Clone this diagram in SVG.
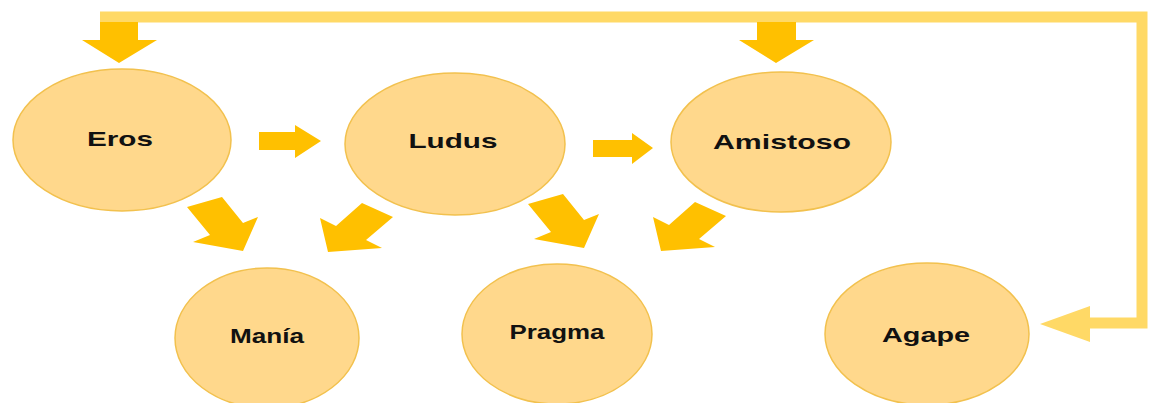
<svg xmlns="http://www.w3.org/2000/svg" width="1150" height="403" viewBox="0 0 1150 403">
<style>
.node{fill:#FFD88C;stroke:#F2C14E;stroke-width:1.5}
.lbl{font-family:"Liberation Sans",Arial,sans-serif;font-weight:bold;font-size:21px;fill:#111;text-anchor:middle}
.arr{fill:#FFC000}
.loop{fill:none;stroke:#FFD966;stroke-width:11;stroke-linejoin:miter}
.loophead{fill:#FFD966}
</style>
<rect width="1150" height="403" fill="#fff"/>
<g id="connectors">
<path class="loop" d="M100,17 H1142 V323 H1088"/>
<polygon class="loophead" points="1090,306 1040,324 1090,342"/>
<polygon class="arr" points="100,22 138,22 138,40 157,40 119,63 82,40 100,40"/>
<polygon class="arr" points="757,22 796,22 796,40 814,40 776,63 739,40 757,40"/>
<polygon class="arr" points="259,132 295,132 295,125 321,141 295,158 295,150 259,150"/>
<polygon class="arr" points="593,140 632,140 632,133 653,148 632,164 632,157 593,157"/>
<polygon class="arr" points="187,207 222,197 243,223 258,217 243,251 193,242 210,235"/>
<polygon class="arr" points="362,203 393,217 366,240 382,248 328,252 320,218 336,226"/>
<polygon class="arr" points="528,204 563,194 584,220 599,214 584,248 534,239 551,232"/>
<polygon class="arr" points="695,202 726,216 699,239 715,247 661,251 653,217 669,225"/>
</g>
<g id="eros"><ellipse class="node" cx="122" cy="140" rx="109" ry="71"/><text class="lbl" x="120" y="146" textLength="66" lengthAdjust="spacingAndGlyphs">Eros</text></g>
<g id="ludus"><ellipse class="node" cx="455" cy="144" rx="110" ry="71"/><text class="lbl" x="453" y="148" textLength="89" lengthAdjust="spacingAndGlyphs">Ludus</text></g>
<g id="amistoso"><ellipse class="node" cx="781" cy="142" rx="110" ry="70"/><text class="lbl" x="782" y="149" textLength="138" lengthAdjust="spacingAndGlyphs">Amistoso</text></g>
<g id="mania"><ellipse class="node" cx="267" cy="338" rx="92" ry="70"/><text class="lbl" x="267" y="343" textLength="74" lengthAdjust="spacingAndGlyphs">Manía</text></g>
<g id="pragma"><ellipse class="node" cx="557" cy="334" rx="95" ry="70"/><text class="lbl" x="557" y="339" textLength="95" lengthAdjust="spacingAndGlyphs">Pragma</text></g>
<g id="agape"><ellipse class="node" cx="927" cy="334" rx="102" ry="71"/><text class="lbl" x="926" y="342" textLength="88" lengthAdjust="spacingAndGlyphs">Agape</text></g>
</svg>
